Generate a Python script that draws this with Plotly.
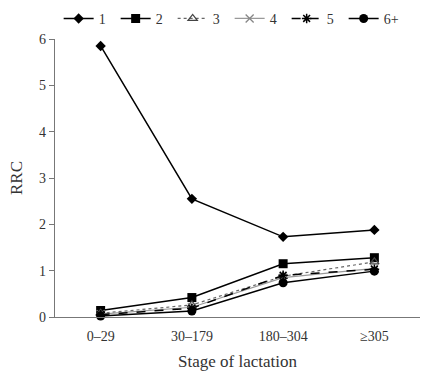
import plotly.graph_objects as go

stages = ["0\u201329", "30\u2013179", "180\u2013304", "\u2265305"]
names = ["1", "2", "3", "4", "5", "6+"]
s1 = [5.85, 2.55, 1.73, 1.88]
s2 = [0.14, 0.42, 1.15, 1.28]
s3 = [0.08, 0.26, 0.88, 1.19]
s4 = [0.06, 0.21, 0.85, 1.05]
s5 = [0.05, 0.19, 0.90, 1.03]
s6 = [0.02, 0.13, 0.74, 0.99]
series = [s1, s2, s3, s4, s5, s6]

styles = [
    dict(line=dict(color="black", width=1.5), marker=dict(symbol="diamond", size=8, color="black")),
    dict(line=dict(color="black", width=1.5), marker=dict(symbol="square", size=9, color="black")),
    dict(line=dict(color="#666", width=1.2, dash="dot"), marker=dict(symbol="triangle-up-open", size=8, color="#444", line=dict(width=1.3))),
    dict(line=dict(color="#999", width=1.2), marker=dict(symbol="x-thin", size=8, color="#888", line=dict(width=1.3, color="#888"))),
    dict(line=dict(color="black", width=1.5, dash="dash"), marker=dict(symbol="asterisk", size=8, color="black", line=dict(width=1.5, color="black"))),
    dict(line=dict(color="black", width=1.5), marker=dict(symbol="circle", size=9, color="black")),
]

fig = go.Figure()
for name, vals, st in zip(names, series, styles):
    fig.add_trace(go.Scatter(x=stages, y=vals, name=name, mode="lines+markers", cliponaxis=False, **st))

font = dict(family="Liberation Serif, DejaVu Serif, serif", size=14, color="#333")
fig.update_layout(
    width=423, height=372,
    margin=dict(l=55, r=3, t=35, b=55),
    paper_bgcolor="white", plot_bgcolor="white",
    font=font,
    showlegend=True,
    legend=dict(orientation="h", x=0.01, xanchor="left", y=1.13, yanchor="top",
                bgcolor="rgba(0,0,0,0)",
                font=dict(size=14, color="#333"), entrywidth=12, entrywidthmode="pixels",
                tracegroupgap=0),
    xaxis=dict(type="category", range=[-0.5, 3.5], showline=True, linecolor="#777", linewidth=1.2,
               ticks="", showgrid=False, zeroline=False, ticklabelstandoff=6,
               title=dict(text="Stage of lactation", standoff=12)),
    yaxis=dict(range=[0, 6], dtick=1, showline=True, linecolor="#777", linewidth=1.2,
               ticks="outside", ticklen=5, tickcolor="#777", showgrid=False, zeroline=False,
               title=dict(text="RRC", standoff=12)),
)
fig.write_html("out.html")
